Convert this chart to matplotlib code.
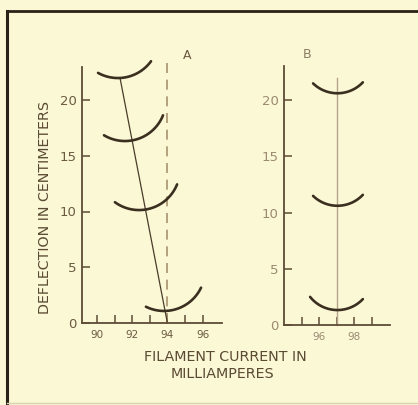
import numpy as np
import matplotlib
matplotlib.use("Agg")
import matplotlib.pyplot as plt
from matplotlib.lines import Line2D

# panel A: arcs (bottom point, left end, right end) in mA / cm
a_arc_x0 = [91.19, 91.59, 92.39, 93.81]
a_arc_y0 = [21.97, 16.32, 10.13, 1.08]
a_arc_left = [90.06, 90.40, 91.02, 92.78]
a_arc_right = [93.07, 93.75, 94.55, 95.91]
a_line_x = [91.31, 94.0]
a_line_y = [21.97, 0.0]
a_dash_x = 94.0
a_dash_top = 23.4
a_xticks = [90, 91, 92, 93, 94, 95, 96]
a_xlabels = ["90", "", "92", "", "94", "", "96"]

# panel B
b_arc_x0 = [97.05, 97.05, 97.05]
b_arc_y0 = [20.6, 10.6, 1.33]
b_arc_left = [95.66, 95.66, 95.49]
b_arc_right = [98.5, 98.5, 98.5]
b_line_x = 97.05
b_line_top = 21.95
b_xticks = [95, 96, 97, 98, 99]
b_xlabels = ["", "96", "", "98", ""]

yticks = [0, 5, 10, 15, 20]

bg = "#fbf8d6"
ink = "#3b2f20"
axis_col = "#5e4c36"

W, H = 418, 405
fig = plt.figure(figsize=(W / 100, H / 100), dpi=100, facecolor=bg)


def add_panel(left, bottom, width, xlim, yscale, labcol):
    ax = fig.add_axes([left / W, (H - bottom) / H, width / W, 23 * yscale / H])
    ax.set_facecolor("none")
    ax.set_xlim(*xlim)
    ax.set_ylim(0, 23)
    for s in ["top", "right"]:
        ax.spines[s].set_visible(False)
    for s in ["left", "bottom"]:
        ax.spines[s].set_color(axis_col)
        ax.spines[s].set_linewidth(1.3)
    ax.set_yticks(yticks)
    ax.set_yticklabels([str(v) for v in yticks])
    ax.tick_params(direction="in", length=6, width=1.1, color=axis_col,
                   labelcolor=labcol)
    ax.tick_params(axis="y", pad=4, labelsize=9.5)
    ax.tick_params(axis="x", pad=5, labelsize=7.5)
    return ax


def draw_arcs(ax, x0s, y0s, lefts, rights, R, sx, sy):
    for x0, y0, xl, xr in zip(x0s, y0s, lefts, rights):
        t1 = -np.arcsin(min(1, (x0 - xl) * sx / R))
        t2 = np.arcsin(min(1, (xr - x0) * sx / R))
        t = np.linspace(t1, t2, 80)
        ax.plot(x0 + R * np.sin(t) / sx, y0 + R * (1 - np.cos(t)) / sy,
                color=ink, lw=1.9, solid_capstyle="round", clip_on=False)


# panel A
axA = add_panel(82, 323, 140, (89.15, 97.1), 11.15, "#6b5a40")
axA.set_xticks(a_xticks)
axA.set_xticklabels(a_xlabels)
axA.plot([a_dash_x, a_dash_x], [0, a_dash_top], color="#a8926e", lw=1.2,
         dashes=(6, 4), clip_on=False)
axA.plot(a_line_x, a_line_y, color="#4a3c2a", lw=0.9, clip_on=False)
draw_arcs(axA, a_arc_x0, a_arc_y0, a_arc_left, a_arc_right, 41,
          140 / 7.95, 11.15)
axA.text(95.1, 24.0, "A", fontsize=9, color="#6b5a40", ha="center",
         va="center")

# panel B
axB = add_panel(284, 325, 106, (94, 100.05), 11.25, "#9a8a70")
axB.set_xticks(b_xticks)
axB.set_xticklabels(b_xlabels)
axB.plot([b_line_x, b_line_x], [0, b_line_top], color="#b5a48a", lw=1.0,
         clip_on=False)
draw_arcs(axB, b_arc_x0, b_arc_y0, b_arc_left, b_arc_right, 35,
          106 / 6.05, 11.25)
axB.text(95.3, 24.0, "B", fontsize=9, color="#8a7a60", ha="center",
         va="center")

# axis titles
fig.text(45 / W, 1 - 208 / H, "DEFLECTION IN CENTIMETERS", rotation=90,
         fontsize=10.3, color="#5a4a32", ha="center", va="center")
fig.text(225 / W, 1 - 357 / H, "FILAMENT CURRENT IN", fontsize=10.3,
         color="#5a4a32", ha="center", va="center")
fig.text(222 / W, 1 - 374 / H, "MILLIAMPERES", fontsize=10.3,
         color="#5a4a32", ha="center", va="center")

# frame around the figure
fig.add_artist(Line2D([7 / W, 7 / W], [1 - 11 / H, 1 - 403 / H],
                      transform=fig.transFigure, color="#2a2218", lw=2.2))
fig.add_artist(Line2D([7 / W, 1], [1 - 11 / H, 1 - 11 / H],
                      transform=fig.transFigure, color="#2a2218", lw=2.0))
fig.add_artist(Line2D([7 / W, 1], [1 - 403 / H, 1 - 403 / H],
                      transform=fig.transFigure, color="#d8d2b0", lw=1.0))

fig.savefig("out.png", dpi=100, facecolor=bg)
